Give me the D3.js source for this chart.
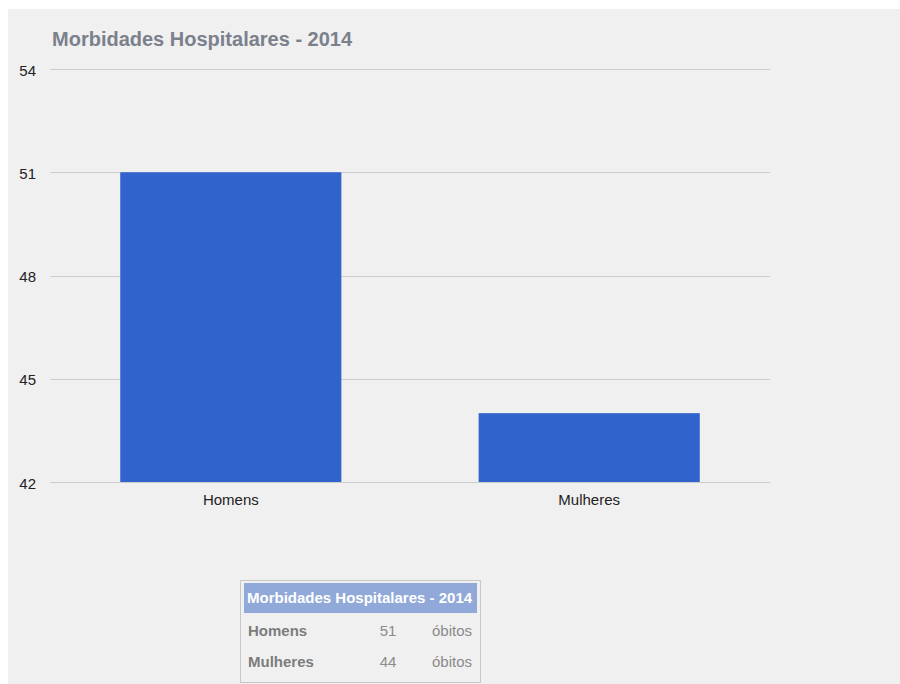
<!DOCTYPE html>
<html>
<head>
<meta charset="utf-8">
<script src="https://cdn.jsdelivr.net/npm/d3@7"></script>
<style>
  html, body { margin: 0; padding: 0; background: #ffffff; }
  svg { display: block; }
  text { font-family: Arial, "Liberation Sans", sans-serif; }
</style>
</head>
<body>
<svg id="chart" width="900" height="684"></svg>
<script>
// Hospital morbidity counts by sex, 2014
const chartTitle = "Morbidades Hospitalares - 2014";
const categories = ["Homens", "Mulheres"];
const values = [51, 44];
const unitLabel = "óbitos";
const yTicks = [42, 45, 48, 51, 54];

const svg = d3.select("#chart");

// panel background
svg.append("rect")
  .attr("x", 8).attr("y", 9).attr("width", 892).attr("height", 675)
  .attr("fill", "#f0f0f0");

const margin = { left: 50, right: 130, top: 69, bottom: 202 };
const width = 900 - margin.left - margin.right;
const height = 684 - margin.top - margin.bottom;

const g = svg.append("g").attr("transform", `translate(${margin.left},${margin.top})`);

const x = d3.scaleBand().domain(categories).range([0, width]).paddingInner(0.383).paddingOuter(0.196);
const y = d3.scaleLinear().domain([42, 54]).range([height, 0]);

// gridlines
g.append("g")
  .selectAll("line")
  .data(yTicks)
  .join("line")
  .attr("x1", 0).attr("x2", width)
  .attr("y1", d => Math.round(y(d)) + 0.5).attr("y2", d => Math.round(y(d)) + 0.5)
  .attr("stroke", "#cccccc").attr("stroke-width", 1);

// y axis labels
const yAxis = d3.axisLeft(y).tickValues(yTicks).tickSize(0).tickPadding(14).tickFormat(d3.format("d"));
g.append("g").call(yAxis)
  .call(s => s.select(".domain").remove())
  .selectAll("text")
  .attr("fill", "#222").style("font-size", "15px")
  .attr("x", -14).attr("dy", "0.4em").attr("text-anchor", "end");

// bars
g.append("g")
  .selectAll("rect")
  .data(categories.map((c, i) => ({ c, v: values[i] })))
  .join("rect")
  .attr("x", d => x(d.c))
  .attr("width", x.bandwidth())
  .attr("y", d => y(d.v))
  .attr("height", d => y(42) - y(d.v))
  .attr("fill", "#3063cc");

// baseline
g.append("line")
  .attr("x1", 0).attr("x2", width)
  .attr("y1", Math.round(y(42)) + 0.5).attr("y2", Math.round(y(42)) + 0.5)
  .attr("stroke", "#cccccc");

// x axis labels
const xAxis = d3.axisBottom(x).tickSize(0).tickPadding(12);
g.append("g").attr("transform", `translate(0,${height})`).call(xAxis)
  .call(s => s.select(".domain").remove())
  .selectAll("text")
  .attr("fill", "#222").style("font-size", "15px");

// title
svg.append("text")
  .attr("x", 52).attr("y", 46)
  .attr("fill", "#7b818c")
  .style("font-size", "20px").style("font-weight", "bold")
  .text(chartTitle);

// summary table
const tbl = svg.append("g").attr("transform", "translate(240,580)");
tbl.append("rect")
  .attr("x", 0.5).attr("y", 0.5).attr("width", 240).attr("height", 102)
  .attr("fill", "#f0f0f0").attr("stroke", "#c8c8c8");
tbl.append("rect")
  .attr("x", 4).attr("y", 3).attr("width", 233).attr("height", 30)
  .attr("fill", "#90a9d8");
tbl.append("text")
  .attr("x", 7).attr("y", 23)
  .attr("fill", "#ffffff")
  .style("font-size", "15px").style("font-weight", "bold")
  .text(chartTitle);

const rows = tbl.selectAll("g.row")
  .data(categories.map((c, i) => ({ c, v: values[i] })))
  .join("g").attr("class", "row")
  .attr("transform", (d, i) => `translate(0,${56 + i * 31})`);
rows.append("text")
  .attr("x", 8).attr("fill", "#7c7c7c")
  .style("font-size", "15px").style("font-weight", "bold")
  .text(d => d.c);
rows.append("text")
  .attr("x", 148).attr("text-anchor", "middle").attr("fill", "#8a8a8a")
  .style("font-size", "15px")
  .text(d => d.v);
rows.append("text")
  .attr("x", 232).attr("text-anchor", "end").attr("fill", "#8a8a8a")
  .style("font-size", "15px")
  .text(unitLabel);
</script>
</body>
</html>
